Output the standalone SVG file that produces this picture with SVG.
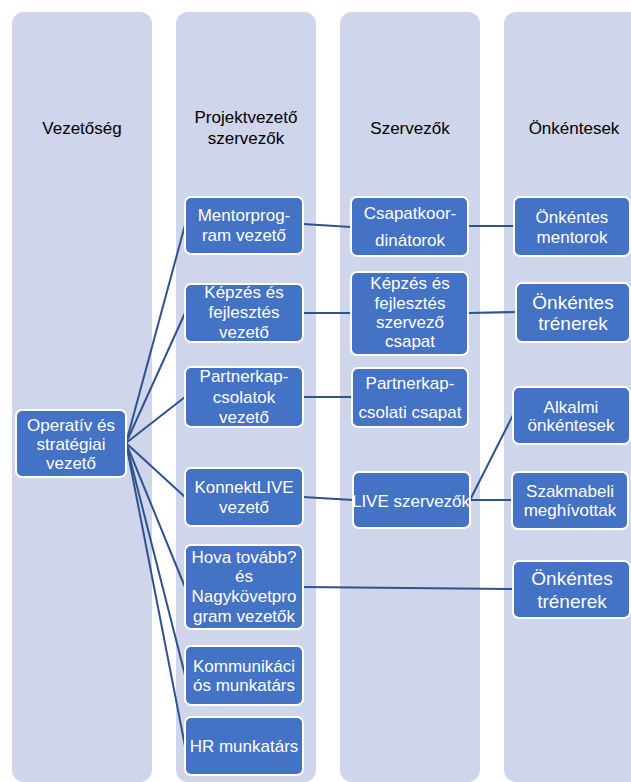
<svg xmlns="http://www.w3.org/2000/svg" width="631" height="782" viewBox="0 0 631 782">
<style>
.col{fill:#CFD5EA}
.hd{font-family:"Liberation Sans",Arial,sans-serif;font-size:17px;fill:#000;text-anchor:middle}
.box{fill:#4472C4;stroke:#FFFFFF;stroke-width:2}
.t{font-family:"Liberation Sans",Arial,sans-serif;font-size:17px;fill:#FFFFFF;text-anchor:middle}
.big{font-size:19px}
.con line{stroke:#2F528F;stroke-width:2;fill:none}
</style>
<rect width="631" height="782" fill="#FFFFFF"/>
<g id="columns">
<rect class="col" x="12" y="12" width="140" height="770" rx="12"/>
<rect class="col" x="176" y="12" width="140" height="770" rx="12"/>
<rect class="col" x="340" y="12" width="140" height="770" rx="12"/>
<rect class="col" x="504" y="12" width="140" height="770" rx="12"/>
<text class="hd" x="82" y="134">Vezetőség</text>
<text class="hd" x="246" y="123">Projektvezető</text>
<text class="hd" x="246" y="144">szervezők</text>
<text class="hd" x="410" y="134">Szervezők</text>
<text class="hd" x="574" y="134">Önkéntesek</text>
</g>
<g class="con" id="connectors">
<line x1="126" y1="443" x2="185" y2="225"/>
<line x1="126" y1="443" x2="185" y2="313"/>
<line x1="126" y1="443" x2="185" y2="397"/>
<line x1="126" y1="443" x2="185" y2="497"/>
<line x1="126" y1="443" x2="185" y2="587"/>
<line x1="126" y1="443" x2="185" y2="675"/>
<line x1="126" y1="443" x2="185" y2="746"/>
<line x1="303" y1="224" x2="351" y2="227"/>
<line x1="303" y1="313" x2="351" y2="313"/>
<line x1="303" y1="397" x2="352" y2="397"/>
<line x1="303" y1="497" x2="353" y2="500"/>
<line x1="468" y1="226" x2="514" y2="226"/>
<line x1="468" y1="313" x2="516" y2="312"/>
<line x1="470" y1="500" x2="513" y2="415"/>
<line x1="470" y1="500" x2="512" y2="500"/>
<line x1="303" y1="587" x2="513" y2="589"/>
</g>
<g id="operativ">
<rect class="box" x="16" y="410" width="110" height="67" rx="6"/>
<text class="t" x="71" y="431">Operatív és</text>
<text class="t" x="71" y="450">stratégiai</text>
<text class="t" x="71" y="469">vezető</text>
</g>
<g id="mentorprogram">
<rect class="box" x="185" y="197" width="118" height="57" rx="6"/>
<text class="t" x="244" y="221">Mentorprog-</text>
<text class="t" x="244" y="241">ram vezető</text>
</g>
<g id="kepzes-vezeto">
<rect class="box" x="185" y="284" width="118" height="58" rx="6"/>
<text class="t" x="244" y="298">Képzés és</text>
<text class="t" x="244" y="318">fejlesztés</text>
<text class="t" x="244" y="338">vezető</text>
</g>
<g id="partner-vezeto">
<rect class="box" x="185" y="367" width="118" height="60" rx="6"/>
<text class="t" x="244" y="382">Partnerkap-</text>
<text class="t" x="244" y="403">csolatok</text>
<text class="t" x="244" y="423">vezető</text>
</g>
<g id="konnektlive">
<rect class="box" x="185" y="468" width="118" height="58" rx="6"/>
<text class="t" x="244" y="493">KonnektLIVE</text>
<text class="t" x="244" y="513">vezető</text>
</g>
<g id="hova">
<rect class="box" x="185" y="545" width="118" height="84" rx="6"/>
<text class="t" x="244" y="563">Hova tovább?</text>
<text class="t" x="244" y="582">és</text>
<text class="t" x="244" y="602">Nagykövetpro</text>
<text class="t" x="244" y="622">gram vezetők</text>
</g>
<g id="kommunikacio">
<rect class="box" x="185" y="646" width="118" height="59" rx="6"/>
<text class="t" x="244" y="672">Kommunikáci</text>
<text class="t" x="244" y="691">ós munkatárs</text>
</g>
<g id="hr">
<rect class="box" x="185" y="717" width="118" height="58" rx="6"/>
<text class="t" x="244" y="752">HR munkatárs</text>
</g>
<g id="csapatkoordinatorok">
<rect class="box" x="351" y="197" width="117" height="59" rx="6"/>
<text class="t" x="410" y="219">Csapatkoor-</text>
<text class="t" x="410" y="246">dinátorok</text>
</g>
<g id="kepzes-szervezo">
<rect class="box" x="351" y="272" width="117" height="83" rx="6"/>
<text class="t" x="410" y="289">Képzés és</text>
<text class="t" x="410" y="309">fejlesztés</text>
<text class="t" x="410" y="328">szervező</text>
<text class="t" x="410" y="347">csapat</text>
</g>
<g id="partner-csapat">
<rect class="box" x="352" y="368" width="116" height="59" rx="6"/>
<text class="t" x="410" y="389">Partnerkap-</text>
<text class="t" x="410" y="418">csolati csapat</text>
</g>
<g id="live-szervezok">
<rect class="box" x="353" y="472" width="117" height="56" rx="6"/>
<text class="t" x="411" y="507">LIVE szervezők</text>
</g>
<g id="onkentes-mentorok">
<rect class="box" x="514" y="197" width="116" height="59" rx="6"/>
<text class="t" x="572" y="223">Önkéntes</text>
<text class="t" x="572" y="243">mentorok</text>
</g>
<g id="onkentes-trenerek-1">
<rect class="box" x="516" y="283" width="114" height="59" rx="6"/>
<text class="t big" x="573" y="309">Önkéntes</text>
<text class="t big" x="573" y="330">trénerek</text>
</g>
<g id="alkalmi">
<rect class="box" x="513" y="387" width="117" height="57" rx="6"/>
<text class="t" x="571" y="413">Alkalmi</text>
<text class="t" x="571" y="431">önkéntesek</text>
</g>
<g id="szakmabeli">
<rect class="box" x="512" y="472" width="116" height="57" rx="6"/>
<text class="t" x="570" y="497">Szakmabeli</text>
<text class="t" x="570" y="516">meghívottak</text>
</g>
<g id="onkentes-trenerek-2">
<rect class="box" x="513" y="561" width="117" height="57" rx="6"/>
<text class="t big" x="572" y="585">Önkéntes</text>
<text class="t big" x="572" y="608">trénerek</text>
</g>
</svg>
